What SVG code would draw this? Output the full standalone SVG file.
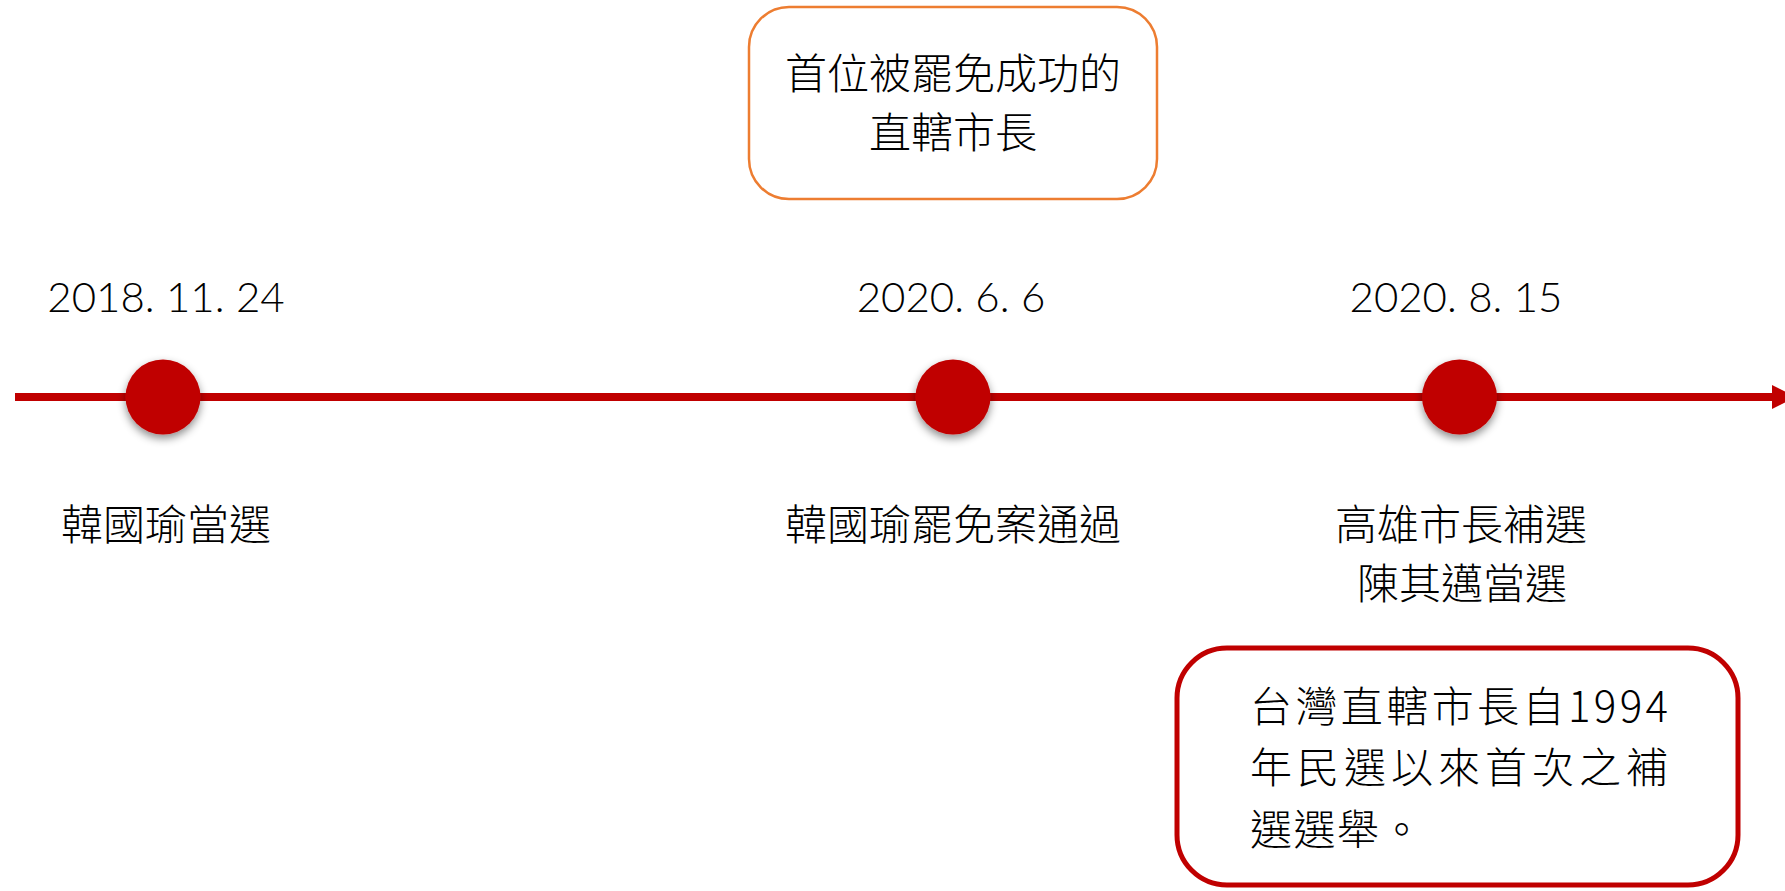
<svg xmlns="http://www.w3.org/2000/svg" width="1785" height="891" viewBox="0 0 1785 891">
  <style>
    .cjk { font-family: "Noto Sans CJK TC", "Noto Sans CJK SC", sans-serif; font-weight: 300; fill: #000; }
    .date { font-family: "Lato", "Liberation Sans", sans-serif; font-weight: 300; font-size: 42px; fill: #000; text-anchor: middle; }
    .dot { fill: #C00000; filter: url(#shadow); }
  </style>
  <defs>
    <filter id="shadow" x="-50%" y="-50%" width="200%" height="200%">
      <feDropShadow dx="0" dy="4" stdDeviation="4" flood-color="#000" flood-opacity="0.45"/>
    </filter>
    <marker id="arrow" viewBox="0 0 10 10" refX="0" refY="5" markerWidth="3" markerHeight="3" markerUnits="strokeWidth" orient="auto">
      <path d="M0,0 L10,5 L0,10 Z" fill="#C00000"/>
    </marker>
  </defs>

  <g id="connectors">
    <line x1="15" y1="397" x2="1772" y2="397" stroke="#C00000" stroke-width="8" marker-end="url(#arrow)"/>
  </g>

  <g id="note-top">
    <rect x="749" y="7" width="408" height="192" rx="40" ry="40" fill="#fff" stroke="#ED7D31" stroke-width="2.5"/>
    <text class="cjk" font-size="42" text-anchor="middle" x="953" y="89">首位被罷免成功的</text>
    <text class="cjk" font-size="42" text-anchor="middle" x="953" y="148">直轄市長</text>
  </g>

  <g id="event1">
    <circle class="dot" cx="163" cy="397" r="37.5"/>
    <text class="date" x="166" y="312">2018. 11. 24</text>
    <text class="cjk" font-size="42" text-anchor="middle" x="166" y="540">韓國瑜當選</text>
  </g>

  <g id="event2">
    <circle class="dot" cx="953" cy="397" r="37.5"/>
    <text class="date" x="951" y="312">2020. 6. 6</text>
    <text class="cjk" font-size="42" text-anchor="middle" x="953" y="540">韓國瑜罷免案通過</text>
  </g>

  <g id="event3">
    <circle class="dot" cx="1459.5" cy="397" r="37.5"/>
    <text class="date" x="1456" y="312">2020. 8. 15</text>
    <text class="cjk" font-size="42" text-anchor="middle" x="1461" y="540">高雄市長補選</text>
    <text class="cjk" font-size="42" text-anchor="middle" x="1462" y="599">陳其邁當選</text>
  </g>

  <g id="note-bottom">
    <rect x="1177" y="648" width="561" height="237" rx="50" ry="50" fill="#fff" stroke="#C00000" stroke-width="5"/>
    <text class="cjk" font-size="42" x="1250" y="722" textLength="418" lengthAdjust="spacing">台灣直轄市長自1994</text>
    <text class="cjk" font-size="42" x="1250" y="783" textLength="418" lengthAdjust="spacing">年民選以來首次之補</text>
    <text class="cjk" font-size="42" x="1250" y="845" letter-spacing="1.5">選選舉。</text>
  </g>
</svg>
